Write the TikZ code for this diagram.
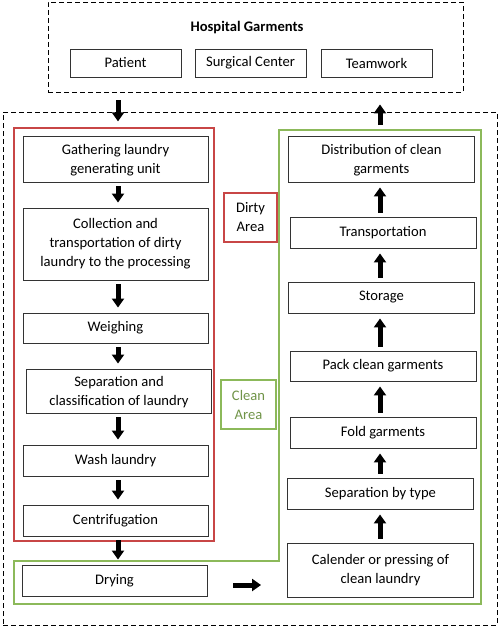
\documentclass[tikz,border=0pt]{standalone}
\usepackage{fontspec}
\setmainfont{Carlito}
\usetikzlibrary{arrows.meta}

\definecolor{dirtyred}{RGB}{200,70,70}
\definecolor{cleangreen}{RGB}{140,185,90}

\tikzset{
  stepbox/.style={draw=black!80, line width=0.9pt, inner sep=0pt, align=center,
    font=\fontsize{14.6}{19}\selectfont},
  leftbox/.style={stepbox, minimum width=185pt},
  rightbox/.style={stepbox, minimum width=186pt},
  lowtext/.style={text depth=0pt, execute at begin node={\vspace*{6pt}}},
  frame/.style={draw, line width=0.9pt, dash pattern=on 5pt off 3pt},
  blockarrow/.style={line width=5pt, -{Triangle[width=12pt,length=9pt]}},
  areabox/.style={line width=1.2pt, inner sep=0pt, align=center,
    minimum width=53pt, minimum height=49pt, font=\fontsize{14.6}{19}\selectfont},
}

\begin{document}
\begin{tikzpicture}[x=1pt, y=-1pt]

        \useasboundingbox (0,0) rectangle (499,629);

        % outer frames
        \node[frame, minimum width=415pt, minimum height=90pt] (hosp) at (255.5,47) {};
        \node[frame, minimum width=494pt, minimum height=513pt] (plant) at (250,368.5) {};
        \node[draw=dirtyred, line width=1.2pt, minimum width=200pt, minimum height=413pt] (dirty) at (114,334.5) {};
        \draw[cleangreen, line width=1.2pt] (14,561) -- (279,561) -- (279,130) -- (481,130) -- (481,604) -- (14,604) -- cycle;
        \coordinate (cleantop) at (380,130);

        % hospital garments
        \node[font=\fontsize{14.6}{16}\selectfont\bfseries] (title) at (247,28) {Hospital Garments};
        \node[stepbox, minimum width=111pt, minimum height=28pt] (patient) at (125.5,63) {Patient};
        \node[stepbox, minimum width=111pt, minimum height=28pt] (surgical) at (250.5,63) {Surgical Center};
        \node[stepbox, minimum width=111pt, minimum height=28pt] (team) at (376.5,63) {Teamwork};

        % dirty side
        \node[leftbox, lowtext, minimum height=46pt] (gather) at (115.5,159) {Gathering laundry\\generating unit};
        \node[leftbox, minimum height=72pt] (collect) at (115.5,244) {Collection and\\transportation of dirty\\laundry to the processing};
        \node[leftbox, minimum height=30pt] (weigh) at (115.5,328) {Weighing};
        \node[leftbox, lowtext, minimum height=44pt] (separ) at (119,391) {Separation and\\classification of laundry};
        \node[leftbox, minimum height=31pt] (wash) at (115.5,460.5) {Wash laundry};
        \node[leftbox, minimum height=31pt] (centri) at (115.5,520.5) {Centrifugation};
        \node[leftbox, minimum height=31pt] (drying) at (114.5,580.5) {Drying};

        % clean side
        \node[rightbox, lowtext, minimum height=46pt] (distrib) at (381.5,159) {Distribution of clean\\garments};
        \node[rightbox, minimum height=31pt] (transp) at (383,232.5) {Transportation};
        \node[rightbox, minimum height=31pt] (storage) at (381.5,297.5) {Storage};
        \node[rightbox, minimum height=30pt] (pack) at (383,366) {Pack clean garments};
        \node[rightbox, minimum height=31pt] (fold) at (383,432.5) {Fold garments};
        \node[rightbox, minimum height=31pt] (septype) at (380.5,493.5) {Separation by type};
        \node[rightbox, minimum height=54pt] (calender) at (380.5,570) {Calender or pressing of\\clean laundry};

        % area labels
        \node[areabox, draw=dirtyred] (dirtylabel) at (250.5,217.5) {Dirty\\Area};
        \node[areabox, draw=cleangreen, text=cleangreen!80!black, minimum width=55pt] (cleanlabel) at (248.5,404.5) {Clean\\Area};

        % arrows
        \coordinate (lx) at (118,0);
        \coordinate (rx) at (380,0);
        \draw[blockarrow, shorten <=8pt, shorten >=6pt] (hosp.south -| lx) -- (dirty.north -| lx);
        \draw[blockarrow, shorten <=5pt, shorten >=12pt] (cleantop) -- (hosp.south -| rx);
        \foreach \a/\b in {gather/collect, collect/weigh, weigh/separ, separ/wash, wash/centri, centri/drying}
          \draw[blockarrow, shorten <=4pt, shorten >=5pt] (\a.south -| lx) -- (\b.north -| lx);
        \foreach \a/\b in {calender/septype, septype/fold, fold/pack, pack/storage, storage/transp, transp/distrib}
          \draw[blockarrow, shorten <=4pt, shorten >=5pt] (\a.north -| rx) -- (\b.south -| rx);
        \draw[blockarrow, shorten <=26pt, shorten >=26pt] (drying.east |- 0,585) -- (calender.west |- 0,585);

\end{tikzpicture}
\end{document}
